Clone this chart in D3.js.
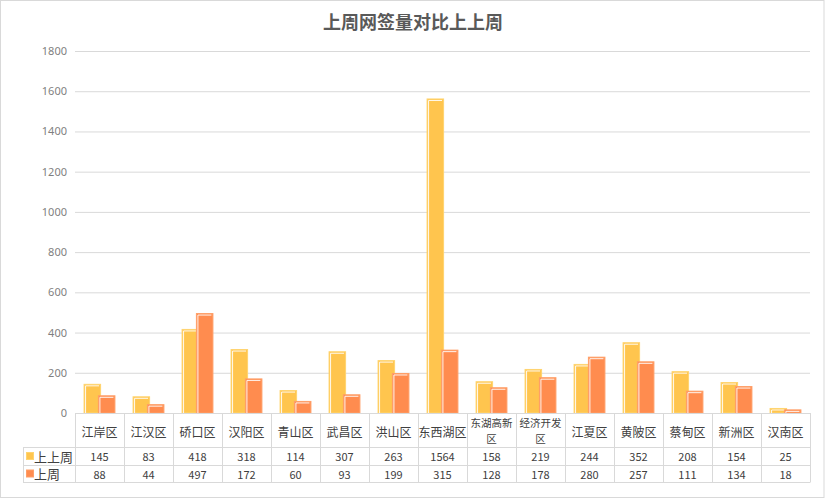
<!DOCTYPE html>
<html>
<head>
<meta charset="utf-8">
<script src="https://cdn.jsdelivr.net/npm/d3@7"></script>
<style>
  body { margin: 0; background: #fff; }
  text { font-family: "Noto Sans CJK SC", "Noto Sans", sans-serif; }
</style>
</head>
<body>
<svg id="chart" width="825" height="499"></svg>
<script>
const categories = ['江岸区', '江汉区', '硚口区', '汉阳区', '青山区', '武昌区', '洪山区', '东西湖区', '东湖高新区', '经济开发区', '江夏区', '黄陂区', '蔡甸区', '新洲区', '汉南区']
const prevPrevWeek = [145, 83, 418, 318, 114, 307, 263, 1564, 158, 219, 244, 352, 208, 154, 25]
const prevWeek = [88, 44, 497, 172, 60, 93, 199, 315, 128, 178, 280, 257, 111, 134, 18]
const yTicks = [0, 200, 400, 600, 800, 1000, 1200, 1400, 1600, 1800]

const series = [
  { name: '上上周', values: prevPrevWeek, fill: '#ffc54e', border: '#ffd46f' },
  { name: '上周', values: prevWeek, fill: '#ff8c4f', border: '#ff9f68' }
]

const svg = d3.select('#chart')
const plot = { left: 75, right: 810, top: 51, bottom: 413 }
const gridColor = '#d9d9d9'
const textColor = '#404040'

// outer frame
svg.append('rect')
  .attr('x', 0.5).attr('y', 0.5)
  .attr('width', 823.5).attr('height', 497)
  .attr('fill', 'none').attr('stroke', gridColor)

svg.append('text')
  .attr('x', 413).attr('y', 21)
  .attr('text-anchor', 'middle')
  .attr('dominant-baseline', 'central')
  .attr('fill', '#595959')
  .style('font-size', '18px')
  .style('font-weight', 'bold')
  .text('上周网签量对比上上周')

const xScale = d3.scaleBand().domain(categories).range([plot.left, plot.right])
const yScale = d3.scaleLinear().domain([0, 1800]).range([plot.bottom, plot.top])

// gridlines + y labels
const yAxis = d3.axisLeft(yScale).tickValues(yTicks).tickFormat(d3.format('d'))
  .tickSize(-(plot.right - plot.left)).tickPadding(8)
const gy = svg.append('g').attr('transform', `translate(${plot.left},0)`).call(yAxis)
gy.select('.domain').remove()
gy.selectAll('.tick line').attr('stroke', gridColor)
gy.selectAll('.tick text')
  .attr('fill', '#7f7f7f')
  .style('font-size', '11px')
  .style('font-family', '"Noto Sans", sans-serif')

// bars
const bw = xScale.bandwidth()
const groupW = bw * 0.65
const barW = groupW * 0.55
series.forEach((s, si) => {
  const g = svg.append('g')
  categories.forEach((c, i) => {
    const cx = xScale(c) + bw / 2
    const x = si === 0 ? cx - groupW / 2 : cx + groupW / 2 - barW
    const y = yScale(s.values[i])
    const h = plot.bottom - y
    g.append('rect')
      .attr('x', x + 0.5).attr('y', y + 0.5)
      .attr('width', barW - 1).attr('height', Math.max(h - 0.5, 0))
      .attr('fill', s.fill).attr('stroke', s.border)
    if (h > 3) {
      g.append('path')
        .attr('d', `M${x + 2},${plot.bottom} V${y + 2} H${x + barW - 2}`)
        .attr('fill', 'none').attr('stroke', '#fff').attr('stroke-width', 1)
        .attr('stroke-opacity', 0.9)
    }
  })
})

// data table
const rowCat = 447, row1 = 465, row2 = 482
const legendLeft = 23
const table = svg.append('g').attr('stroke', gridColor).attr('fill', 'none')
table.append('line').attr('x1', plot.left).attr('x2', plot.right).attr('y1', plot.bottom + 0.5).attr('y2', plot.bottom + 0.5)
;[rowCat, row1, row2].forEach(y => {
  table.append('line').attr('x1', legendLeft).attr('x2', plot.right).attr('y1', y + 0.5).attr('y2', y + 0.5)
})
table.append('line').attr('x1', legendLeft + 0.5).attr('x2', legendLeft + 0.5).attr('y1', rowCat).attr('y2', row2 + 0.5)
categories.concat([null]).forEach((c, i) => {
  const x = Math.round(c ? xScale(c) : plot.right) + 0.5
  table.append('line').attr('x1', x).attr('x2', x).attr('y1', plot.bottom).attr('y2', row2 + 0.5)
})

// category labels (long names wrap onto two lines)
const catLabels = svg.append('g').attr('fill', textColor)
categories.forEach(c => {
  const cx = xScale(c) + bw / 2
  const lines = c.length > 4 ? [c.slice(0, 4), c.slice(4)] : [c]
  lines.forEach((l, li) => {
    catLabels.append('text')
      .attr('x', cx)
      .attr('y', lines.length === 1 ? 431 : 422.5 + li * 15.5)
      .attr('text-anchor', 'middle')
      .attr('dominant-baseline', 'central')
      .style('font-size', lines.length > 1 ? '10.5px' : '12px')
      .text(l)
  })
})

// value rows + legend keys
const rowCenters = [456, 473.5]
series.forEach((s, si) => {
  const yc = rowCenters[si]
  svg.append('rect')
    .attr('x', 26.5).attr('y', yc - 3.5)
    .attr('width', 7).attr('height', 7)
    .attr('fill', s.fill).attr('stroke', s.border)
  svg.append('text')
    .attr('x', 34).attr('y', yc)
    .attr('dominant-baseline', 'central')
    .attr('fill', textColor)
    .style('font-size', '13px')
    .text(s.name)
  const rowG = svg.append('g').attr('fill', textColor).style('font-size', '11px').style('font-family', '"Noto Sans", sans-serif')
  categories.forEach((c, i) => {
    rowG.append('text')
      .attr('x', xScale(c) + bw / 2).attr('y', yc)
      .attr('text-anchor', 'middle')
      .attr('dominant-baseline', 'central')
      .text(s.values[i])
  })
})
</script>
</body>
</html>
